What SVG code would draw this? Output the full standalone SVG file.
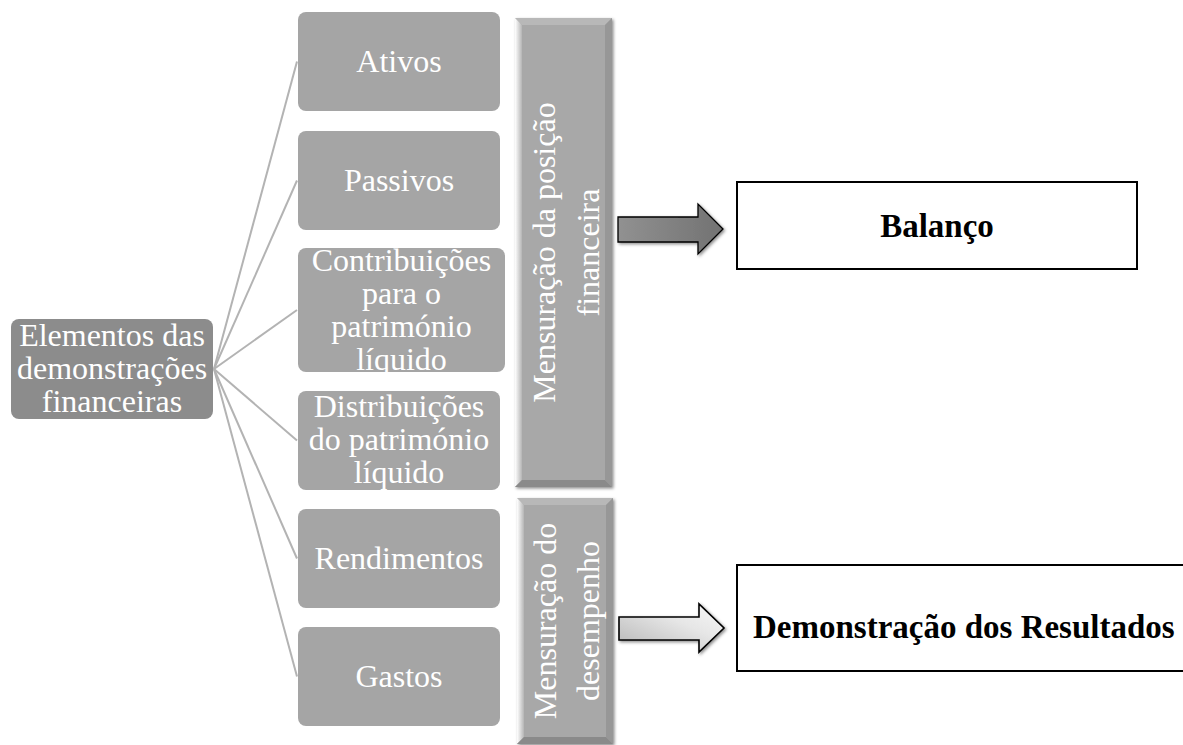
<svg xmlns="http://www.w3.org/2000/svg" width="1183" height="745" viewBox="0 0 1183 745">
<style>
.box{fill:#a5a5a5}
.root{fill:#8c8c8c}
.t{font-family:"Liberation Serif","Times New Roman",serif;font-size:32px;fill:#ffffff;text-anchor:middle}
.b{font-family:"Liberation Serif","Times New Roman",serif;font-size:33px;font-weight:bold;fill:#000000}
.conn line{stroke:#b3b3b3;stroke-width:2}
.res{fill:#ffffff;stroke:#000000;stroke-width:2}
</style>
<defs>
<linearGradient id="lb" x1="0" y1="0" x2="1" y2="0">
<stop offset="0" stop-color="#ffffff"/><stop offset="1" stop-color="#b5b5b5"/>
</linearGradient>
<linearGradient id="a1" x1="0" y1="0" x2="1" y2="0">
<stop offset="0" stop-color="#919191"/><stop offset="1" stop-color="#727272"/>
</linearGradient>
<linearGradient id="a2" x1="0" y1="1" x2="1" y2="0">
<stop offset="0" stop-color="#b5b5b5"/><stop offset="0.6" stop-color="#e6e6e6"/><stop offset="1" stop-color="#f8f8f8"/>
</linearGradient>
<filter id="sh" x="-10%" y="-10%" width="130%" height="130%">
<feDropShadow dx="1.5" dy="1.5" stdDeviation="1.5" flood-color="#000" flood-opacity="0.45"/>
</filter>
</defs>

<g id="connectors" class="conn">
<line x1="214" y1="369" x2="297" y2="61.5"/>
<line x1="214" y1="369" x2="297" y2="180.5"/>
<line x1="214" y1="369" x2="297" y2="310"/>
<line x1="214" y1="369" x2="297" y2="440.5"/>
<line x1="214" y1="369" x2="297" y2="558.5"/>
<line x1="214" y1="369" x2="297" y2="676.5"/>
</g>

<g id="elementos">
<rect class="root" x="11" y="319" width="202" height="100" rx="8"/>
<text class="t" x="112" y="346">Elementos das</text>
<text class="t" x="112" y="379">demonstrações</text>
<text class="t" x="112" y="412">financeiras</text>
</g>

<g id="ativos">
<rect class="box" x="298" y="12" width="202" height="99" rx="8"/>
<text class="t" x="399" y="72">Ativos</text>
</g>
<g id="passivos">
<rect class="box" x="298" y="131" width="202" height="99" rx="8"/>
<text class="t" x="399" y="191">Passivos</text>
</g>
<g id="contribuicoes">
<rect class="box" x="298" y="248" width="207" height="124" rx="8"/>
<text class="t" x="401.5" y="271">Contribuições</text>
<text class="t" x="401.5" y="304">para o</text>
<text class="t" x="401.5" y="337">património</text>
<text class="t" x="401.5" y="370">líquido</text>
</g>
<g id="distribuicoes">
<rect class="box" x="298" y="391" width="202" height="99" rx="8"/>
<text class="t" x="399" y="417">Distribuições</text>
<text class="t" x="399" y="450">do património</text>
<text class="t" x="399" y="483">líquido</text>
</g>
<g id="rendimentos">
<rect class="box" x="298" y="509" width="202" height="99" rx="8"/>
<text class="t" x="399" y="569">Rendimentos</text>
</g>
<g id="gastos">
<rect class="box" x="298" y="627" width="202" height="99" rx="8"/>
<text class="t" x="399" y="687">Gastos</text>
</g>

<g id="bar-posicao">
<g filter="url(#sh)">
<rect x="515" y="18" width="97" height="469" fill="#a8a8a8"/>
<polygon points="515,18 612,18 605,25 522,25" fill="#b8b8b8"/>
<polygon points="515,18 522,25 522,480 515,487" fill="url(#lb)"/>
<polygon points="612,18 612,487 605,480 605,25" fill="#979797"/>
<polygon points="515,487 612,487 605,480 522,480" fill="#8a8a8a"/>
</g>
<g transform="translate(563.5,252.5) rotate(-90)">
<text class="t" x="0" y="-8.5">Mensuração da posição</text>
<text class="t" x="0" y="35.5">financeira</text>
</g>
</g>

<g id="bar-desempenho">
<g filter="url(#sh)">
<rect x="517" y="498" width="96" height="246" fill="#a8a8a8"/>
<polygon points="517,498 613,498 606,505 524,505" fill="#b8b8b8"/>
<polygon points="517,498 524,505 524,737 517,744" fill="url(#lb)"/>
<polygon points="613,498 613,744 606,737 606,505" fill="#979797"/>
<polygon points="517,744 613,744 606,737 524,737" fill="#8a8a8a"/>
</g>
<g transform="translate(565,621) rotate(-90)">
<text class="t" x="0" y="-9">Mensuração do</text>
<text class="t" x="0" y="34">desempenho</text>
</g>
</g>

<g id="arrows">
<polygon points="618,217 698,217 698,204 723,229 698,254 698,242 618,242" fill="url(#a1)" stroke="#000" stroke-width="1.3" filter="url(#sh)"/>
<polygon points="619,617 699,617 699,604 724,628 699,652 699,640 619,640" fill="url(#a2)" stroke="#000" stroke-width="1.6" filter="url(#sh)"/>
</g>

<g id="balanco">
<rect class="res" x="737" y="182" width="400" height="87"/>
<text class="b" x="937" y="237" text-anchor="middle">Balanço</text>
</g>
<g id="demonstracao">
<rect class="res" x="737" y="565" width="460" height="106"/>
<text class="b" x="753" y="638">Demonstração dos Resultados</text>
</g>
</svg>
